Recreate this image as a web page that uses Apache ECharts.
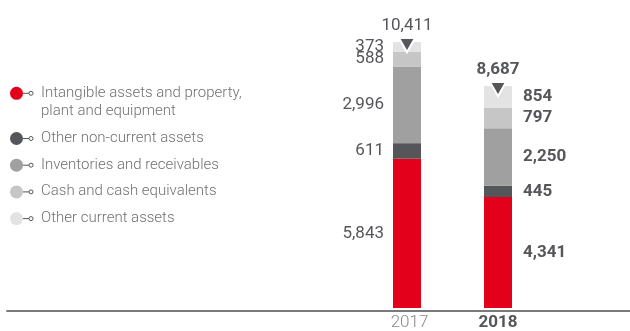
<!DOCTYPE html>
<html>
<head>
<meta charset="utf-8">
<style>
  html, body { margin: 0; padding: 0; background: #ffffff; }
  #chart { width: 630px; height: 331px; }
</style>
<script src="https://cdn.jsdelivr.net/npm/echarts@6/dist/echarts.min.js"></script>
</head>
<body>
<div id="chart"></div>
<script>
// Balance-sheet assets by year (EUR million)
const years = ['2017', '2018'];
const seriesNames = [
  'Intangible assets and property, plant and equipment',
  'Other non-current assets',
  'Inventories and receivables',
  'Cash and cash equivalents',
  'Other current assets'
];
const legendLabels = [
  'Intangible assets and property,\nplant and equipment',
  'Other non-current assets',
  'Inventories and receivables',
  'Cash and cash equivalents',
  'Other current assets'
];
const intangibleAssets = [5843, 4341];
const otherNonCurrent = [611, 445];
const inventoriesReceivables = [2996, 2250];
const cashEquivalents = [588, 797];
const otherCurrent = [373, 854];
const totalAssets = [10411, 8687];

const palette = ['#e2001a', '#55565a', '#a0a0a0', '#c6c6c6', '#e3e3e3'];
const FONT = 'Roboto, "Liberation Sans", sans-serif';
const TEXT_DARK = '#55565a';

const fmt = v => Number(v).toLocaleString('en-US');

// previous year in regular weight, current year in bold
const richWeights = {
  r: { fontFamily: FONT, fontSize: 17, fontWeight: 'normal', color: TEXT_DARK },
  b: { fontFamily: FONT, fontSize: 17, fontWeight: 'bold', color: TEXT_DARK }
};
const yearText = p => (p.dataIndex === 0 ? '{r|' : '{b|') + fmt(p.value) + '}';

const seriesValues = [intangibleAssets, otherNonCurrent, inventoriesReceivables, cashEquivalents, otherCurrent];

// 2017 values sit left of the bar, 2018 values right of it
const barSeries = seriesValues.map((vals, s) => ({
  name: seriesNames[s],
  type: 'bar',
  stack: 'assets',
  barWidth: 28,
  itemStyle: { color: palette[s] },
  label: { show: true, formatter: yearText, rich: richWeights },
  data: vals.map((v, i) => ({
    value: v,
    label: {
      position: i === 0 ? 'left' : 'right',
      distance: i === 0 ? 9 : 11
    }
  }))
}));

// Totals: downward triangle with the sum above it
const totalSeries = {
  name: 'Total',
  type: 'scatter',
  symbol: 'triangle',
  symbolRotate: 180,
  symbolSize: [16, 14],
  symbolOffset: [0, 3],
  itemStyle: { color: TEXT_DARK, opacity: 1, borderColor: '#ffffff', borderWidth: 2 },
  z: 5,
  label: {
    show: true,
    position: 'top',
    distance: 3,
    formatter: yearText,
    rich: richWeights
  },
  emphasis: { disabled: true },
  data: totalAssets
};

// Hand-built legend: dot, connector and small ring, then the label
const legendGraphics = [];
let rowY = 93.3;
legendLabels.forEach((label, i) => {
  const lines = label.split('\n').length;
  legendGraphics.push({
    type: 'group',
    children: [
      { type: 'circle', shape: { cx: 16.5, cy: rowY, r: 6.5 }, style: { fill: palette[i] } },
      { type: 'line', shape: { x1: 23, y1: rowY, x2: 29, y2: rowY }, style: { stroke: TEXT_DARK, lineWidth: 1 } },
      { type: 'circle', shape: { cx: 31, cy: rowY, r: 2 }, style: { fill: '#ffffff', stroke: TEXT_DARK, lineWidth: 1 } },
      {
        type: 'text',
        x: 41, y: rowY - 9.5,
        style: {
          text: label,
          font: '300 15px ' + FONT,
          fill: '#707070',
          lineHeight: 18.5,
          verticalAlign: 'top',
          align: 'left'
        }
      }
    ]
  });
  rowY += (lines - 1) * 18.5 + 26.7;
});

const chart = echarts.init(document.getElementById('chart'), null, { renderer: 'canvas' });
chart.setOption({
  animation: false,
  backgroundColor: '#ffffff',
  grid: [
    { left: 361.5, right: 86.5, top: 27, bottom: 20 },
    { left: 7, right: 0, top: 27, bottom: 20 }
  ],
  xAxis: [
    {
      type: 'category',
      gridIndex: 0,
      data: years,
      axisLine: { show: false },
      axisTick: { show: false },
      axisLabel: {
        margin: 6,
        formatter: (v, idx) => idx === 0 ? '{a|' + v + '}' : '{b|' + v + '}',
        rich: {
          a: { fontFamily: FONT, fontSize: 17, fontWeight: 300, color: '#8a8a8a', padding: [0, 0, 0, 5] },
          b: { fontFamily: FONT, fontSize: 17, fontWeight: 'bold', color: TEXT_DARK }
        }
      }
    },
    {
      type: 'value',
      gridIndex: 1,
      min: 0, max: 1,
      axisLine: { show: true, onZero: false, lineStyle: { color: '#7a7a7a', width: 2 } },
      axisTick: { show: false },
      axisLabel: { show: false },
      splitLine: { show: false }
    }
  ],
  yAxis: [
    { type: 'value', gridIndex: 0, min: 0, max: 11000, show: false, splitLine: { show: false } },
    { type: 'value', gridIndex: 1, min: 0, max: 1, show: false, splitLine: { show: false } }
  ],
  series: [...barSeries, totalSeries],
  graphic: legendGraphics
});
</script>
</body>
</html>
